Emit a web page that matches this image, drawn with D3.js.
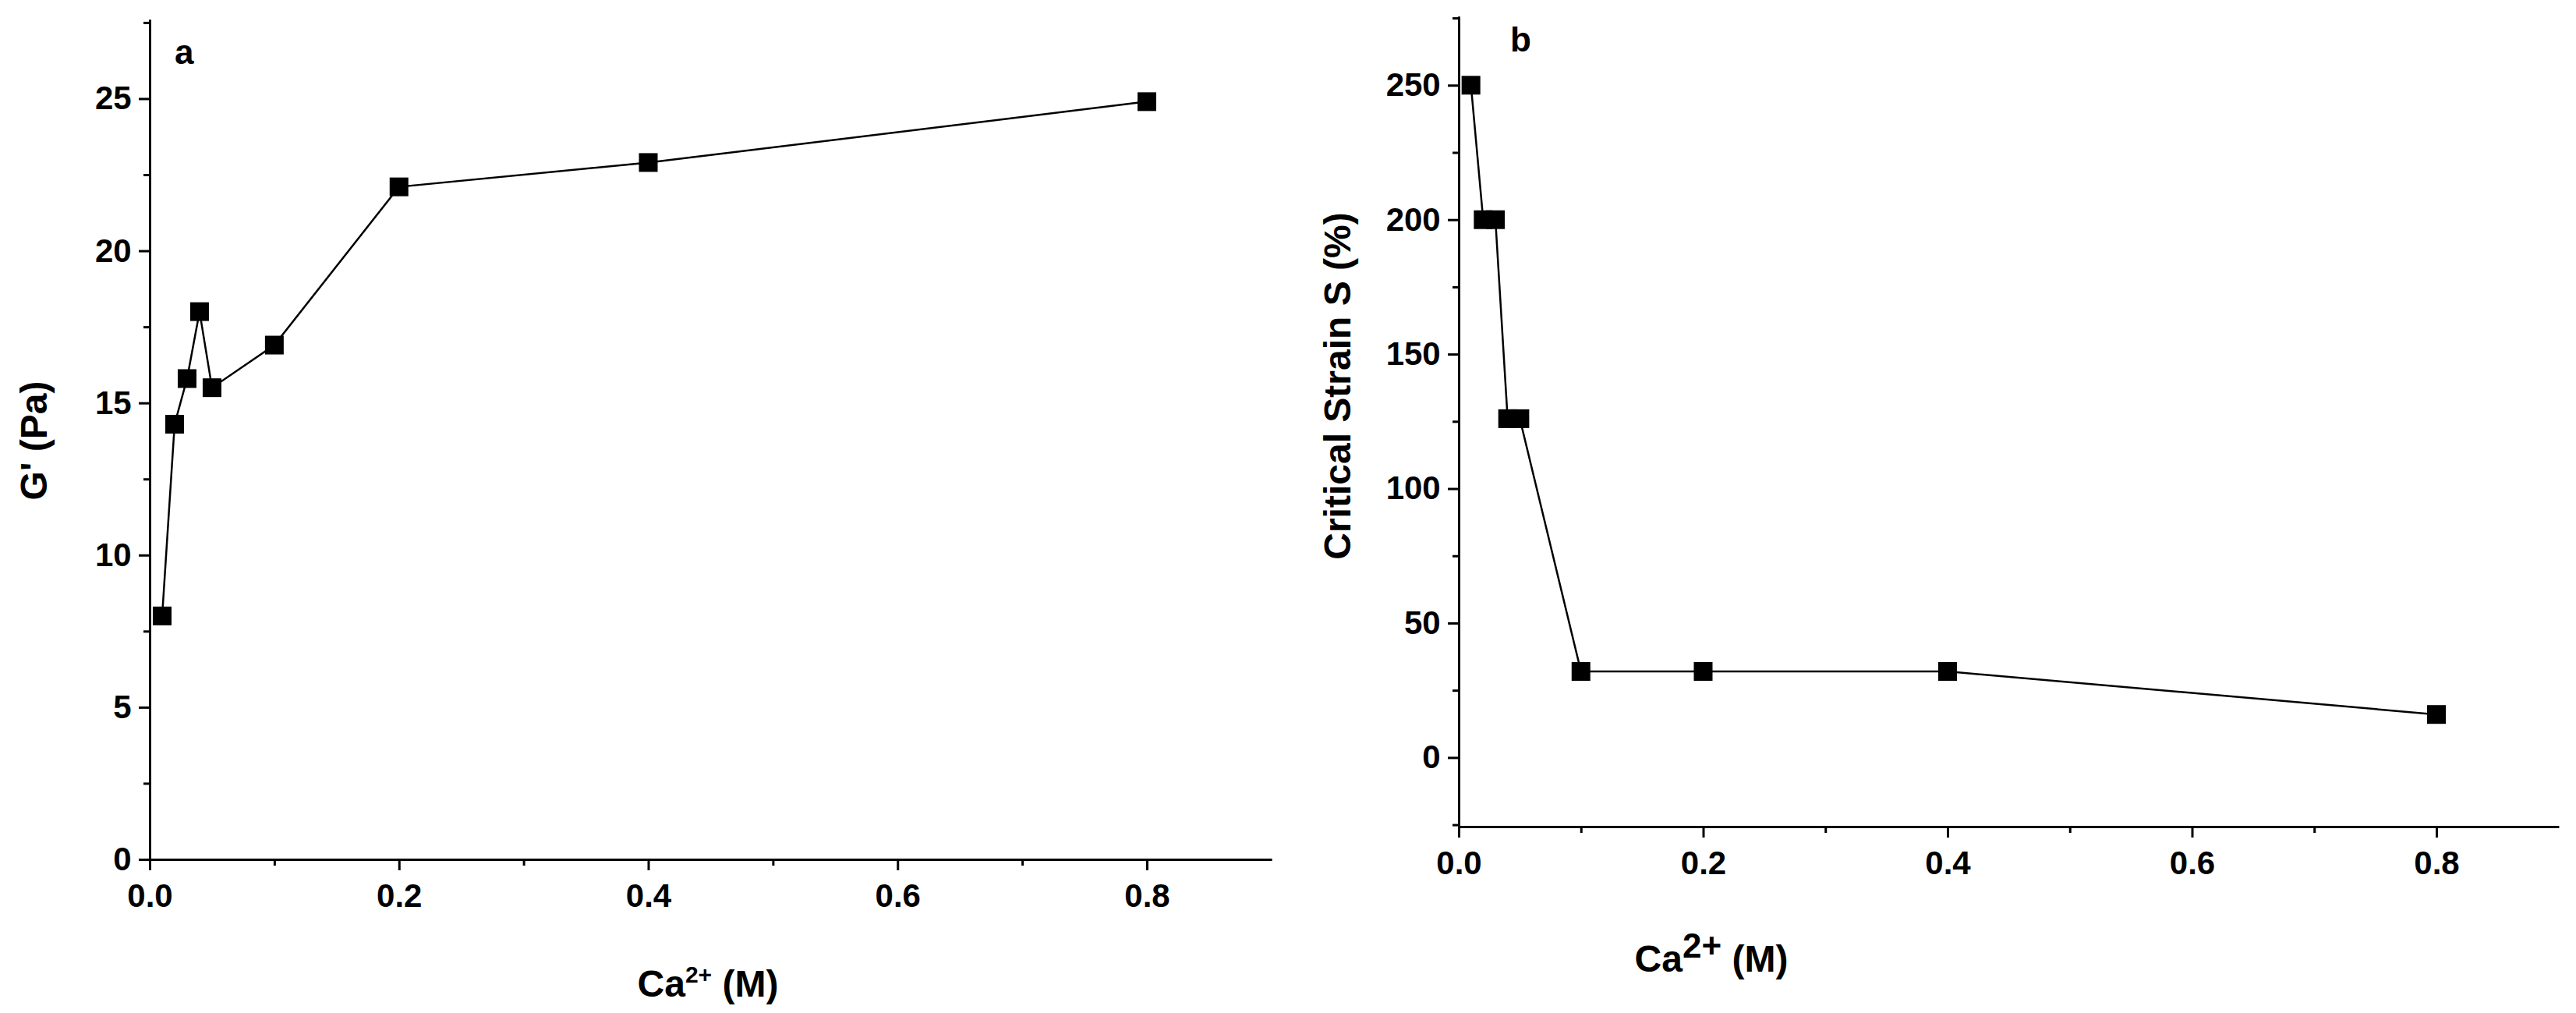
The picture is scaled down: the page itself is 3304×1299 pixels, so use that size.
<!DOCTYPE html><html><head><meta charset="utf-8"><script src="https://cdn.jsdelivr.net/npm/d3@7"></script>
<style>body{margin:0;background:#fff}text{font-family:"Liberation Sans Narrow","Arial Narrow","Liberation Sans",sans-serif;font-weight:bold;fill:#000}</style></head><body>
<svg id="c" width="3304" height="1299"></svg>
<script>
const xVals=[0.01,0.02,0.03,0.04,0.05,0.1,0.2,0.4,0.8];
const gVals=[8.0,14.3,15.8,18.0,15.5,16.9,22.1,22.9,24.9];
const sVals=[250,200,200,126,126,32,32,32,16];
const xTicks=[0,0.2,0.4,0.6,0.8];
const gTicks=[0,5,10,15,20,25];
const sTicks=[0,50,100,150,200,250];
const svg=d3.select("#c");
function panel(o){
  const x=d3.scaleLinear().domain([0,0.9]).range([o.x0,o.x0+(o.x08-o.x0)/0.8*0.9]);
  const y=d3.scaleLinear().domain(o.yd).range([o.yb,o.yt]);
  const g=svg.append("g");
  const ax=g.append("g").attr("transform",`translate(0,${o.yb})`).call(d3.axisBottom(x).tickValues(xTicks).tickFormat(d3.format(".1f")).tickSize(14).tickSizeOuter(0));
  g.append("g").attr("transform",`translate(0,${o.yb})`).call(d3.axisBottom(x).tickValues(d3.range(0.1,0.9,0.2)).tickFormat("").tickSize(8).tickSizeOuter(0));
  const ay=g.append("g").attr("transform",`translate(${o.x0},0)`).call(d3.axisLeft(y).tickValues(o.ticks).tickSize(14).tickSizeOuter(0));
  g.append("g").attr("transform",`translate(${o.x0},0)`).call(d3.axisLeft(y).tickValues(o.minor).tickFormat("").tickSize(8).tickSizeOuter(0));
  g.selectAll(".domain,.tick line").attr("stroke","#000").attr("stroke-width",3);
  g.selectAll(".tick text").attr("font-size",42);
  ax.selectAll(".tick text").attr("dy","1.05em");
  ay.selectAll(".tick text").attr("dx","-0.15em");
  const line=d3.line().x((d,i)=>x(xVals[i])).y(d=>y(d));
  g.append("path").attr("d",line(o.vals)).attr("fill","none").attr("stroke","#000").attr("stroke-width",2.5);
  const s=o.ms;
  g.selectAll("rect.m").data(o.vals).join("rect").attr("x",(d,i)=>x(xVals[i])-s/2).attr("y",d=>y(d)-s/2).attr("width",s).attr("height",s).attr("fill","#000");
  g.append("text").attr("x",o.lx).attr("y",o.ly).attr("font-size",44).attr("font-family","Liberation Sans, Arial, sans-serif").text(o.letter);
  g.append("text").attr("transform",`translate(${o.ytx},${o.yty}) rotate(-90)`).attr("text-anchor","middle").attr("font-size",48).attr("font-family","Liberation Sans, Arial, sans-serif").text(o.ylabel);
  const t=g.append("text").attr("x",o.xtx).attr("y",o.xty).attr("text-anchor","middle").attr("font-size",48).attr("font-family","Liberation Sans, Arial, sans-serif");
  t.append("tspan").text("Ca");t.append("tspan").attr("dy",-18).attr("font-size",o.supSize).text("2+");t.append("tspan").attr("dy",18).text(" (M)");
}
panel({x0:192,x08:1471,yd:[0,27.6],yb:1102,yt:25,ticks:gTicks,minor:d3.range(2.5,27.6,5),vals:gVals,ms:24,letter:"a",lx:224,ly:82,ylabel:"G' (Pa)",ytx:60,yty:565,xtx:908,xty:1278,supSize:30});
panel({x0:1871,x08:3125,yd:[-25.7,275.6],yb:1060,yt:21,ticks:sTicks,minor:d3.range(-25,276,50),vals:sVals,ms:24,letter:"b",lx:1937,ly:66,ylabel:"Critical Strain S (%)",ytx:1732,yty:495,xtx:2195,xty:1246,supSize:44});
</script></body></html>
